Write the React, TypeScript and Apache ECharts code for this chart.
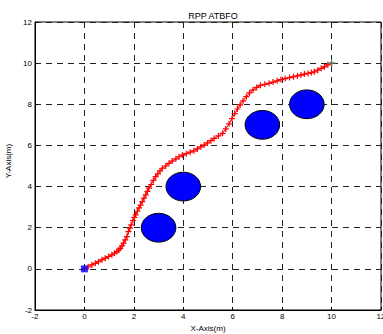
import React, { useEffect, useRef } from "react";
import * as echarts from "echarts";

const xTicks = [-2, 0, 2, 4, 6, 8, 10, 12];
const yTicks = [-2, 0, 2, 4, 6, 8, 10, 12];

const pathX = [
  0, 0.15, 0.3, 0.44, 0.57, 0.71, 0.84, 0.98, 1.11, 1.22, 1.31, 1.39, 1.45, 1.52, 1.58, 1.65, 1.72, 1.78,
  1.84, 1.89, 1.96, 2.02, 2.07, 2.14, 2.21, 2.27, 2.34, 2.41, 2.48, 2.55, 2.61, 2.7, 2.79, 2.88, 2.97,
  3.06, 3.15, 3.29, 3.42, 3.55, 3.7, 3.83, 3.96, 4.12, 4.28, 4.43, 4.57, 4.71, 4.84, 4.98, 5.12, 5.25,
  5.42, 5.59, 5.72, 5.85, 5.97, 6.08, 6.19, 6.3, 6.42, 6.55, 6.68, 6.82, 6.97, 7.12, 7.3, 7.47, 7.63,
  7.8, 7.95, 8.12, 8.3, 8.46, 8.62, 8.76, 8.9, 9.05, 9.18, 9.3, 9.44, 9.58, 9.71, 9.85, 10.0,
];
const pathY = [
  0, 0.09, 0.19, 0.27, 0.35, 0.44, 0.52, 0.6, 0.68, 0.76, 0.84, 0.92, 1.0, 1.12, 1.25, 1.41, 1.57, 1.81,
  1.98, 2.14, 2.35, 2.5, 2.62, 2.8, 2.96, 3.1, 3.27, 3.44, 3.6, 3.77, 3.92, 4.1, 4.3, 4.48, 4.62,
  4.76, 4.89, 5.0, 5.13, 5.24, 5.35, 5.45, 5.53, 5.6, 5.67, 5.74, 5.83, 5.93, 6.02, 6.12, 6.23, 6.34,
  6.46, 6.59, 6.8, 7.05, 7.3, 7.55, 7.77, 7.97, 8.17, 8.37, 8.55, 8.7, 8.82, 8.92, 8.97, 9.02, 9.08,
  9.14, 9.2, 9.25, 9.3, 9.34, 9.38, 9.42, 9.47, 9.5, 9.54, 9.58, 9.66, 9.75, 9.82, 9.92, 10.0,
];

const obstacleX = [3, 4, 7.2, 9];
const obstacleY = [2, 4, 7, 8];
const obstacleR = [0.7, 0.7, 0.7, 0.7];

const startPoint = [0, 0];
const goalPoint = [10, 10];

const PLUS = "path://M2,0H3V2H5V3H3V5H2V3H0V2H2Z";
const STAR =
  "path://M4.3,0H5.7V4.3H10V5.7H5.7V10H4.3V5.7H0V4.3H4.3Z";

export default function App() {
  const ref = useRef<HTMLDivElement>(null);
  useEffect(() => {
    if (!ref.current) return;
    const chart = echarts.init(ref.current, null, { renderer: "svg" });
    const font = "'Liberation Sans', Arial, sans-serif";
    const pathData = pathX.map((x, i) => [x, pathY[i]]);
    const obsData = obstacleX.map((x, i) => [x, obstacleY[i], obstacleR[i]]);
    chart.setOption({
      animation: false,
      backgroundColor: "#fff",
      title: {
        text: "RPP ATBFO",
        left: 208,
        top: 6,
        textAlign: "center",
        textStyle: { fontFamily: font, fontSize: 9, fontWeight: "normal", color: "#000" },
      },
      grid: {
        left: 35,
        right: 2,
        top: 22,
        bottom: 24,
        show: true,
        borderColor: "#000",
        borderWidth: 1,
        backgroundColor: "transparent",
        containLabel: false,
        outerBoundsMode: "none",
      },
      xAxis: {
        type: "value",
        min: xTicks[0],
        max: xTicks[xTicks.length - 1],
        interval: 2,
        name: "X-Axis(m)",
        nameLocation: "middle",
        nameGap: 10,
        nameTextStyle: { fontFamily: font, fontSize: 8, color: "#000" },
        axisLine: { show: true, onZero: false, lineStyle: { color: "#000", width: 1 } },
        axisTick: { show: true, inside: true, length: 3, lineStyle: { color: "#000" } },
        axisLabel: { fontFamily: font, fontSize: 8, color: "#000", margin: 2, hideOverlap: false },
        splitLine: { show: true, lineStyle: { color: "#222", type: [6, 5], width: 1 } },
      },
      yAxis: {
        type: "value",
        min: yTicks[0],
        max: yTicks[yTicks.length - 1],
        interval: 2,
        name: "Y-Axis(m)",
        nameLocation: "middle",
        nameGap: 13,
        nameTextStyle: { fontFamily: font, fontSize: 8, color: "#000", padding: [0, 0, 0, 10] },
        axisLine: { show: true, onZero: false, lineStyle: { color: "#000", width: 1 } },
        axisTick: { show: true, inside: true, length: 3, lineStyle: { color: "#000" } },
        axisLabel: { fontFamily: font, fontSize: 8, color: "#000", margin: 3, hideOverlap: false },
        splitLine: { show: true, lineStyle: { color: "#222", type: [6, 5], width: 1 } },
      },
      series: [
        {
          type: "custom",
          data: obsData,
          z: 2,
          renderItem: (params: any, api: any) => {
            const c = api.coord([api.value(0), api.value(1)]);
            const s = api.size([api.value(2), api.value(2)]);
            return {
              type: "ellipse",
              shape: { cx: c[0], cy: c[1], rx: s[0], ry: s[1] },
              style: { fill: "#0000ff", stroke: "#000", lineWidth: 1 },
            };
          },
        },
        {
          type: "line",
          data: pathData,
          z: 3,
          symbol: PLUS,
          symbolSize: 6,
          showAllSymbol: true,
          lineStyle: { color: "#ff0000", width: 1 },
          itemStyle: { color: "#ff0000" },
        },
        {
          type: "scatter",
          data: [startPoint],
          z: 4,
          symbol: "rect",
          symbolSize: 7,
          itemStyle: { color: "#0000ff" },
        },
        {
          type: "scatter",
          data: [goalPoint],
          z: 5,
          symbol: STAR,
          symbolSize: 8,
          itemStyle: { color: "#20a080" },
        },
      ],
    });
    return () => chart.dispose();
  }, []);
  return <div ref={ref} style={{ width: 383, height: 334, position: "absolute", left: 0, top: 0 }} />;
}
